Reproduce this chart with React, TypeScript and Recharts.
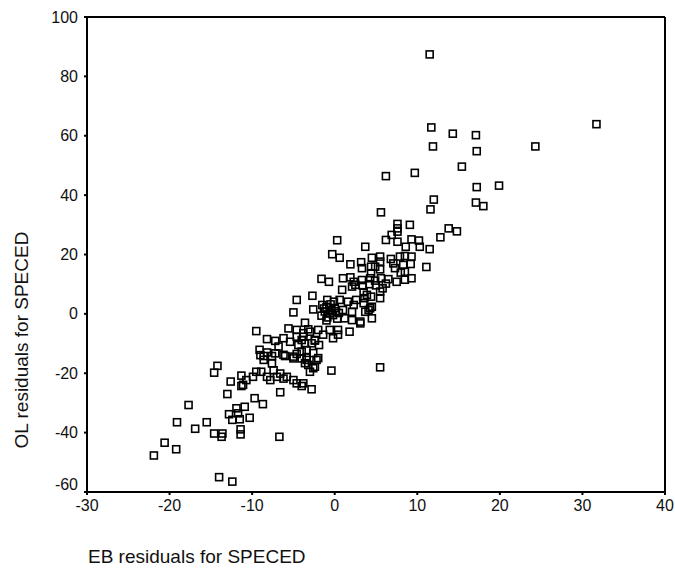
import React from 'react'
import { ScatterChart, Scatter, XAxis, YAxis, ReferenceLine } from 'recharts'

// EB residuals (x) and OL residuals (y) for SPECED
const ebResiduals = [
  11.5, 11.7, 14.3, 17.1, 11.9, 17.2, 24.3, 31.7, 15.4, 9.7,
  6.2, 17.2, 19.9, 12.0, 11.6, 17.1, 18.0, 5.6, 9.1, 7.6,
  7.6, 7.6, 13.8, 14.8, 12.8, 9.3, 10.2, 0.3, 6.2, 6.9,
  7.6, 8.6, 10.3, 11.5, 3.7, -0.3, 0.6, 1.9, 3.2, 4.5,
  5.5, 5.5, 6.8, 7.1, 7.9, 8.5, 9.3, 8.3, 8.5, 7.3,
  11.1, 3.3, 4.4, 4.9, 5.5, 4.4, 8.0, 9.2, -1.6, -0.7,
  1.0, 1.9, 2.3, 3.3, 4.3, 4.9, 5.6, 6.5, 7.5, 8.5,
  9.3, 2.5, 3.4, 4.2, 5.0, 6.2, 5.8, 0.9, 2.1, 3.5,
  4.4, 5.5, 5.5, -2.7, -4.6, -0.9, -0.1, 0.6, 1.6, 2.3,
  3.5, 4.1, 4.5, 2.6, 3.6, -5.0, -2.6, -1.5, -1.0, -0.5,
  0.0, -1.2, -0.6, 0.1, -1.6, -0.9, -0.2, 0.3, -1.3, -0.4,
  0.5, -1.0, 1.0, 2.1, 1.2, 2.1, 3.1, 4.5, 3.7, 4.3,
  3.1, 1.8, 0.4, -0.2, -3.6, -3.0, -2.4, -3.8, -4.6, -3.8,
  -3.2, -2.0, -1.4, -0.6, 0.4, -9.5, -8.2, -5.6, -7.2, -6.2,
  -5.4, -4.6, -4.0, -4.4, -3.6, -2.8, -2.4, -1.9, -3.4, -6.8,
  -6.2, -9.1, -8.2, -8.6, -7.6, -7.2, -6.0, -5.0, -4.6, -4.0,
  -3.4, -2.6, -2.0, -9.0, -7.6, -8.6, -5.0, -4.0, -3.4, -2.2,
  -3.6, -2.4, -3.0, -3.2, -2.6, -0.4, 5.5, -14.6, -14.2, -12.6,
  -11.3, -11.1, -10.7, -11.3, -9.9, -9.5, -8.9, -8.2, -7.8, -7.4,
  -7.0, -6.6, -6.2, -5.8, -5.0, -4.6, -4.0, -3.8, -2.8, -13.0,
  -6.6, -9.7, -8.7, -17.7, -11.9, -10.9, -12.8, -11.7, -12.4, -11.5,
  -10.3, -19.1, -15.5, -16.9, -11.4, -11.4, -14.6, -13.6, -13.7, -6.7,
  -20.6, -19.2, -21.9, -14.0, -12.4, 3.9,
]

const olResiduals = [
  87.4, 62.8, 60.7, 60.2, 56.4, 54.8, 56.4, 63.9, 49.6, 47.5,
  46.4, 42.7, 43.2, 38.5, 35.2, 37.5, 36.3, 34.2, 30.0, 30.3,
  28.8, 27.7, 28.8, 27.8, 25.8, 25.1, 24.7, 24.8, 24.9, 26.6,
  24.3, 22.6, 22.6, 21.8, 22.6, 20.1, 18.9, 16.7, 17.4, 18.9,
  19.3, 17.6, 18.5, 17.0, 19.3, 19.5, 19.3, 16.5, 14.2, 15.4,
  15.8, 15.4, 15.9, 15.9, 15.0, 13.7, 13.9, 16.8, 11.8, 10.8,
  12.0, 12.3, 10.8, 11.4, 12.0, 11.2, 12.0, 11.7, 10.8, 11.5,
  12.0, 9.8, 9.5, 10.0, 9.6, 10.2, 8.6, 8.1, 9.2, 7.3,
  5.8, 5.3, 7.5, 6.1, 4.7, 4.7, 4.1, 4.7, 4.1, 3.0,
  3.6, 1.3, 2.4, 4.7, 5.3, 0.5, 1.5, 3.0, 2.2, 3.2,
  2.0, 0.8, 0.2, 0.9, -0.6, -1.2, -0.4, -1.6, 1.8, 1.3,
  0.3, -2.2, 1.3, 0.7, -1.5, -2.1, -2.6, -1.5, 0.7, 1.9,
  -3.2, -6.0, -5.4, -8.2, -3.0, -6.0, -8.8, -7.7, -5.4, -6.5,
  -5.2, -5.4, -7.0, -5.4, -7.0, -5.8, -8.5, -4.9, -9.1, -8.2,
  -9.4, -7.7, -8.8, -10.5, -9.9, -9.9, -9.0, -10.5, -12.2, -11.0,
  -13.8, -12.1, -13.0, -14.2, -14.2, -13.3, -14.2, -14.4, -13.5, -12.7,
  -14.7, -13.2, -14.9, -13.9, -16.7, -15.5, -15.0, -15.0, -15.5, -15.5,
  -16.6, -17.8, -19.5, -17.2, -18.3, -19.1, -18.0, -19.8, -17.5, -22.8,
  -20.8, -23.9, -22.3, -24.3, -21.2, -19.5, -19.5, -21.2, -22.3, -19.0,
  -21.2, -20.1, -21.8, -21.2, -22.3, -23.4, -24.3, -23.4, -25.4, -27.0,
  -26.4, -28.4, -30.4, -30.7, -31.8, -31.3, -33.8, -33.5, -35.7, -35.5,
  -35.0, -36.5, -36.5, -38.7, -38.9, -40.6, -40.3, -40.3, -41.4, -41.4,
  -43.4, -45.6, -47.7, -55.0, -56.5, 6.4,
]

const xTicks = [-30, -20, -10, 0, 10, 20, 30, 40]
const yTicks = [-60, -40, -20, 0, 20, 40, 60, 80, 100]

const FONT = "Arial, 'Liberation Sans', sans-serif"

const points = ebResiduals.map((x, i) => ({ x, y: olResiduals[i] }))

const SquareMarker = (props: any) => {
  const { cx, cy } = props
  if (cx == null || cy == null) return null
  return (
    <rect x={cx - 3.5} y={cy - 3.5} width={7} height={7} fill="none" stroke="#000" strokeWidth={1.6} />
  )
}

const YTick = (props: any) => {
  const { x, y, payload } = props
  // the bottom label sits a little above the axis line in the original
  const shift = payload.value === -60 ? -8 : 0
  return (
    <text x={x} y={y + shift} textAnchor="end" dominantBaseline="central" fontSize={16} fill="#111" fontFamily={FONT}>
      {payload.value}
    </text>
  )
}

export default function App() {
  return (
    <div style={{ position: 'absolute', left: 0, top: 0, width: 675, height: 573, background: '#fff' }}>
      <ScatterChart width={675} height={573} margin={{ top: 17, right: 10, left: 0, bottom: 0 }}>
        <XAxis
          type="number"
          dataKey="x"
          domain={[-30, 40]}
          ticks={xTicks}
          allowDataOverflow
          height={81}
          tickSize={3}
          tickMargin={5}
          stroke="#000"
          strokeWidth={2}
          tick={{ fontSize: 16, fill: '#111', fontFamily: FONT }}
        />
        <YAxis
          type="number"
          dataKey="y"
          domain={[-60, 100]}
          ticks={yTicks}
          allowDataOverflow
          width={87}
          tickSize={3}
          tickMargin={6}
          stroke="#000"
          strokeWidth={2}
          tick={<YTick />}
        />
        <ReferenceLine y={100} stroke="#000" strokeWidth={2} />
        <ReferenceLine x={40} stroke="#000" strokeWidth={2} />
        <Scatter data={points} shape={<SquareMarker />} isAnimationActive={false} />
      </ScatterChart>
      <div
        style={{
          position: 'absolute',
          left: 88,
          top: 546,
          fontFamily: FONT,
          fontSize: 19,
          color: '#111',
          whiteSpace: 'nowrap',
        }}
      >
        EB residuals for SPECED
      </div>
      <div
        style={{
          position: 'absolute',
          left: 22,
          top: 340,
          transform: 'translate(-50%, -50%) rotate(-90deg)',
          fontFamily: FONT,
          fontSize: 19,
          color: '#111',
          whiteSpace: 'nowrap',
        }}
      >
        OL residuals for SPECED
      </div>
    </div>
  )
}
